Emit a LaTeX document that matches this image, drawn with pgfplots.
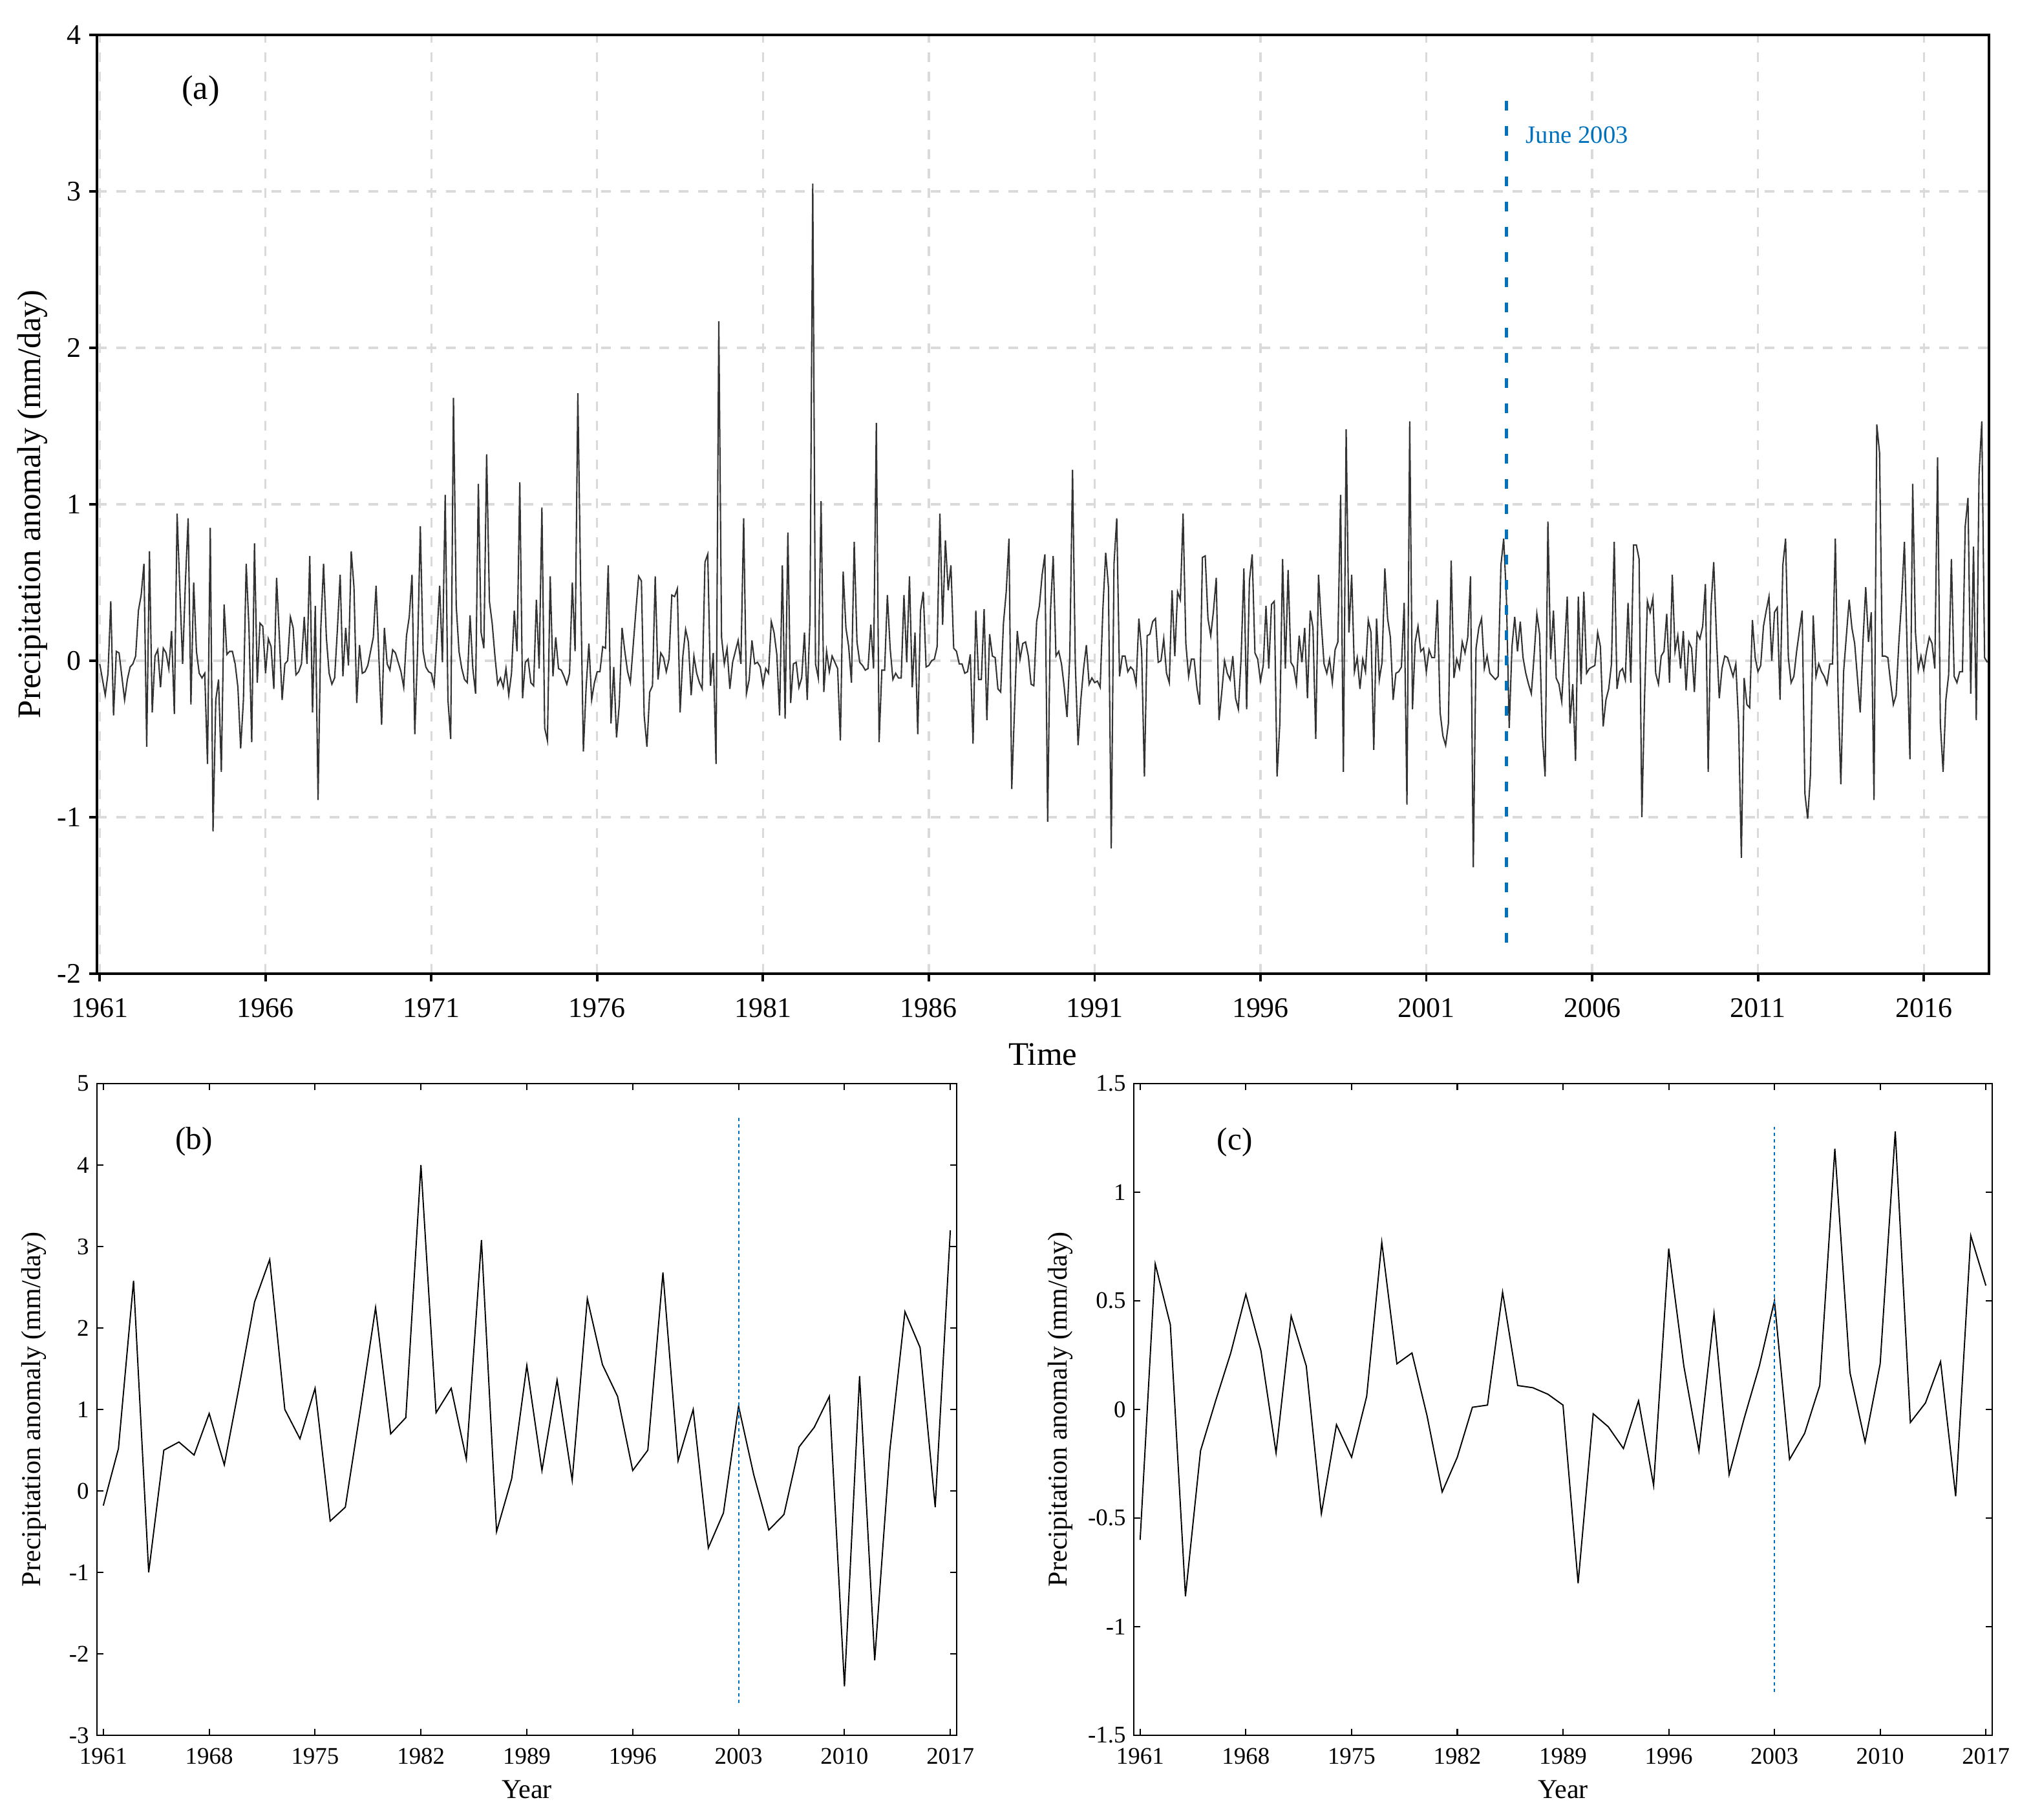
\documentclass[border=0pt]{standalone}
\usepackage{pgfplots}
\pgfplotsset{compat=1.18}
\usepackage{pgfplotstable}
\usepackage{fontspec}
\setmainfont{Liberation Serif}

\definecolor{mblue}{RGB}{0,114,189}
\definecolor{gridgray}{RGB}{218,218,218}

% monthly anomaly, Jan 1961 - Dec 2017, one year per line
\pgfplotstableread[row sep=\\, header=false]{
-0.02\\ -0.12\\ -0.22\\ -0.08\\ 0.38\\ -0.35\\ 0.06\\ 0.05\\ -0.10\\ -0.25\\ -0.12\\ -0.04\\
-0.02\\ 0.03\\ 0.32\\ 0.42\\ 0.62\\ -0.55\\ 0.70\\ -0.33\\ 0.03\\ 0.07\\ -0.17\\ 0.08\\
0.05\\ -0.05\\ 0.19\\ -0.34\\ 0.94\\ 0.45\\ -0.02\\ 0.50\\ 0.91\\ -0.28\\ 0.50\\ 0.06\\
-0.08\\ -0.11\\ -0.08\\ -0.66\\ 0.85\\ -1.09\\ -0.25\\ -0.12\\ -0.71\\ 0.36\\ 0.04\\ 0.06\\
0.06\\ -0.02\\ -0.17\\ -0.56\\ -0.25\\ 0.62\\ 0.21\\ -0.52\\ 0.75\\ -0.14\\ 0.24\\ 0.22\\
-0.08\\ 0.14\\ 0.09\\ -0.18\\ 0.53\\ 0.15\\ -0.25\\ -0.02\\ 0.00\\ 0.28\\ 0.21\\ -0.09\\
-0.07\\ -0.02\\ 0.28\\ -0.02\\ 0.67\\ -0.33\\ 0.35\\ -0.89\\ 0.21\\ 0.62\\ 0.15\\ -0.08\\
-0.15\\ -0.11\\ 0.20\\ 0.55\\ -0.10\\ 0.21\\ -0.03\\ 0.70\\ 0.47\\ -0.27\\ 0.10\\ -0.08\\
-0.07\\ -0.03\\ 0.06\\ 0.15\\ 0.48\\ 0.03\\ -0.41\\ 0.21\\ -0.02\\ -0.06\\ 0.07\\ 0.05\\
-0.01\\ -0.07\\ -0.17\\ 0.16\\ 0.28\\ 0.55\\ -0.47\\ 0.06\\ 0.86\\ 0.06\\ -0.04\\ -0.07\\
-0.08\\ -0.16\\ 0.15\\ 0.48\\ -0.01\\ 1.06\\ -0.25\\ -0.50\\ 1.68\\ 0.35\\ 0.06\\ -0.05\\
-0.12\\ -0.14\\ 0.29\\ -0.05\\ -0.21\\ 1.13\\ 0.18\\ 0.08\\ 1.32\\ 0.38\\ 0.24\\ 0.03\\
-0.15\\ -0.11\\ -0.17\\ -0.05\\ -0.22\\ -0.08\\ 0.32\\ 0.06\\ 1.14\\ -0.24\\ -0.01\\ 0.01\\
-0.14\\ -0.16\\ 0.39\\ -0.05\\ 0.98\\ -0.43\\ -0.51\\ 0.54\\ -0.10\\ 0.15\\ -0.05\\ -0.06\\
-0.10\\ -0.15\\ -0.08\\ 0.50\\ 0.06\\ 1.71\\ 0.50\\ -0.58\\ -0.17\\ 0.11\\ -0.25\\ -0.14\\
-0.07\\ -0.07\\ 0.09\\ 0.08\\ 0.61\\ -0.40\\ -0.04\\ -0.49\\ -0.28\\ 0.21\\ 0.06\\ -0.07\\
-0.14\\ 0.09\\ 0.32\\ 0.54\\ 0.51\\ -0.35\\ -0.55\\ -0.20\\ -0.16\\ 0.54\\ -0.12\\ 0.05\\
0.02\\ -0.07\\ 0.01\\ 0.42\\ 0.41\\ 0.46\\ -0.33\\ 0.03\\ 0.20\\ 0.12\\ -0.22\\ 0.03\\
-0.08\\ -0.14\\ -0.18\\ 0.63\\ 0.68\\ -0.16\\ 0.05\\ -0.66\\ 2.17\\ 0.15\\ -0.02\\ 0.08\\
-0.18\\ -0.01\\ 0.06\\ 0.13\\ -0.02\\ 0.91\\ -0.21\\ -0.12\\ 0.13\\ -0.02\\ -0.01\\ -0.04\\
-0.16\\ -0.05\\ -0.08\\ 0.25\\ 0.18\\ 0.04\\ -0.35\\ 0.61\\ -0.37\\ 0.82\\ -0.27\\ -0.02\\
-0.01\\ -0.17\\ -0.11\\ 0.18\\ -0.25\\ 0.27\\ 3.05\\ -0.02\\ -0.11\\ 1.02\\ -0.20\\ 0.06\\
-0.07\\ 0.03\\ -0.01\\ -0.05\\ -0.51\\ 0.57\\ 0.21\\ 0.09\\ -0.14\\ 0.76\\ 0.12\\ -0.01\\
-0.03\\ -0.06\\ -0.05\\ 0.23\\ -0.05\\ 1.52\\ -0.52\\ -0.06\\ -0.06\\ 0.42\\ 0.08\\ -0.12\\
-0.08\\ -0.11\\ -0.11\\ 0.42\\ -0.01\\ 0.54\\ -0.17\\ 0.18\\ -0.47\\ 0.32\\ 0.44\\ -0.04\\
-0.03\\ 0.00\\ 0.01\\ 0.09\\ 0.94\\ 0.23\\ 0.77\\ 0.45\\ 0.61\\ 0.08\\ 0.06\\ -0.02\\
-0.02\\ -0.08\\ -0.07\\ 0.04\\ -0.53\\ 0.32\\ -0.12\\ -0.12\\ 0.33\\ -0.38\\ 0.17\\ 0.03\\
0.02\\ -0.18\\ -0.20\\ 0.24\\ 0.44\\ 0.78\\ -0.82\\ -0.31\\ 0.19\\ 0.01\\ 0.11\\ 0.12\\
0.03\\ -0.15\\ -0.16\\ 0.25\\ 0.35\\ 0.55\\ 0.68\\ -1.03\\ 0.31\\ 0.67\\ 0.03\\ 0.06\\
-0.02\\ -0.17\\ -0.36\\ 0.03\\ 1.22\\ -0.02\\ -0.54\\ -0.25\\ -0.05\\ 0.10\\ -0.15\\ -0.11\\
-0.14\\ -0.13\\ -0.17\\ 0.34\\ 0.69\\ 0.47\\ -1.20\\ 0.62\\ 0.91\\ -0.10\\ 0.03\\ 0.03\\
-0.07\\ -0.04\\ -0.06\\ -0.15\\ 0.27\\ 0.06\\ -0.74\\ 0.16\\ 0.17\\ 0.25\\ 0.27\\ -0.01\\
0.00\\ 0.14\\ -0.08\\ -0.14\\ 0.45\\ 0.03\\ 0.44\\ 0.39\\ 0.94\\ 0.11\\ -0.10\\ 0.01\\
0.01\\ -0.17\\ -0.28\\ 0.66\\ 0.67\\ 0.27\\ 0.16\\ 0.32\\ 0.53\\ -0.38\\ -0.20\\ 0.00\\
-0.08\\ -0.12\\ 0.03\\ -0.24\\ -0.31\\ 0.02\\ 0.59\\ -0.31\\ 0.51\\ 0.68\\ 0.05\\ 0.01\\
-0.13\\ -0.03\\ 0.35\\ -0.05\\ 0.36\\ 0.38\\ -0.74\\ -0.40\\ 0.65\\ -0.05\\ 0.58\\ -0.01\\
-0.04\\ -0.15\\ 0.16\\ -0.01\\ 0.21\\ -0.24\\ 0.32\\ 0.21\\ -0.50\\ 0.55\\ 0.24\\ -0.02\\
-0.08\\ 0.01\\ -0.14\\ 0.07\\ 0.12\\ 1.06\\ -0.71\\ 1.48\\ 0.18\\ 0.55\\ -0.07\\ 0.02\\
-0.18\\ 0.01\\ -0.07\\ 0.26\\ 0.18\\ -0.57\\ 0.27\\ -0.12\\ -0.01\\ 0.59\\ 0.27\\ 0.15\\
-0.25\\ -0.08\\ -0.07\\ -0.04\\ 0.37\\ -0.92\\ 1.53\\ -0.31\\ 0.12\\ 0.22\\ 0.06\\ 0.08\\
-0.07\\ 0.07\\ 0.02\\ 0.02\\ 0.39\\ -0.33\\ -0.48\\ -0.54\\ -0.40\\ 0.64\\ -0.11\\ 0.01\\
-0.05\\ 0.12\\ 0.05\\ 0.15\\ 0.54\\ -1.32\\ 0.08\\ 0.21\\ 0.27\\ -0.05\\ 0.03\\ -0.08\\
-0.10\\ -0.12\\ -0.10\\ 0.61\\ 0.78\\ 0.40\\ -0.43\\ 0.09\\ 0.28\\ 0.06\\ 0.25\\ 0.02\\
-0.08\\ -0.15\\ -0.21\\ 0.03\\ 0.30\\ 0.17\\ -0.48\\ -0.74\\ 0.89\\ 0.01\\ 0.32\\ -0.11\\
-0.15\\ -0.26\\ 0.06\\ 0.41\\ -0.40\\ -0.15\\ -0.64\\ 0.41\\ -0.15\\ 0.44\\ -0.08\\ -0.05\\
-0.04\\ -0.03\\ 0.18\\ 0.09\\ -0.42\\ -0.25\\ -0.18\\ -0.02\\ 0.76\\ -0.18\\ -0.07\\ -0.05\\
-0.12\\ 0.37\\ -0.14\\ 0.74\\ 0.74\\ 0.65\\ -1.00\\ -0.22\\ 0.38\\ 0.31\\ 0.40\\ -0.08\\
-0.15\\ 0.03\\ 0.06\\ 0.30\\ -0.14\\ 0.55\\ 0.06\\ 0.16\\ -0.05\\ 0.19\\ -0.19\\ 0.12\\
0.08\\ -0.20\\ 0.18\\ 0.14\\ 0.22\\ 0.49\\ -0.71\\ 0.34\\ 0.63\\ 0.15\\ -0.24\\ -0.05\\
0.03\\ 0.02\\ -0.04\\ -0.10\\ -0.02\\ -0.40\\ -1.26\\ -0.11\\ -0.28\\ -0.30\\ 0.26\\ 0.02\\
-0.07\\ -0.03\\ 0.22\\ 0.32\\ 0.41\\ 0.00\\ 0.31\\ 0.34\\ -0.25\\ 0.61\\ 0.78\\ 0.02\\
-0.14\\ -0.10\\ 0.06\\ 0.19\\ 0.32\\ -0.85\\ -1.01\\ -0.73\\ 0.29\\ -0.10\\ -0.02\\ -0.07\\
-0.10\\ -0.15\\ -0.02\\ -0.02\\ 0.78\\ -0.20\\ -0.79\\ -0.07\\ 0.16\\ 0.39\\ 0.21\\ 0.11\\
-0.11\\ -0.33\\ 0.12\\ 0.47\\ 0.12\\ 0.31\\ -0.89\\ 1.51\\ 1.33\\ 0.03\\ 0.03\\ 0.02\\
-0.14\\ -0.28\\ -0.22\\ 0.12\\ 0.39\\ 0.76\\ 0.06\\ -0.63\\ 1.13\\ 0.18\\ -0.06\\ 0.03\\
-0.06\\ 0.06\\ 0.15\\ 0.11\\ -0.05\\ 1.30\\ -0.40\\ -0.71\\ -0.25\\ -0.09\\ 0.65\\ -0.10\\
-0.14\\ -0.07\\ -0.07\\ 0.86\\ 1.04\\ -0.21\\ 0.73\\ -0.38\\ 1.19\\ 1.53\\ 0.02\\ -0.01\\
}\monthly

% annual anomaly, panel (b)
\pgfplotstableread{
year v
1961 -0.18
1962 0.52
1963 2.58
1964 -1.00
1965 0.50
1966 0.60
1967 0.44
1968 0.95
1969 0.32
1970 1.30
1971 2.32
1972 2.84
1973 1.00
1974 0.64
1975 1.26
1976 -0.37
1977 -0.20
1978 1.00
1979 2.25
1980 0.70
1981 0.90
1982 4.00
1983 0.96
1984 1.26
1985 0.39
1986 3.08
1987 -0.50
1988 0.15
1989 1.54
1990 0.25
1991 1.36
1992 0.13
1993 2.36
1994 1.55
1995 1.16
1996 0.25
1997 0.50
1998 2.68
1999 0.37
2000 1.00
2001 -0.70
2002 -0.27
2003 1.04
2004 0.20
2005 -0.48
2006 -0.29
2007 0.54
2008 0.78
2009 1.16
2010 -2.40
2011 1.41
2012 -2.08
2013 0.50
2014 2.20
2015 1.76
2016 -0.20
2017 3.20
}\annualb

% annual anomaly, panel (c)
\pgfplotstableread{
year v
1961 -0.60
1962 0.67
1963 0.39
1964 -0.86
1965 -0.19
1966 0.04
1967 0.26
1968 0.53
1969 0.27
1970 -0.20
1971 0.43
1972 0.20
1973 -0.48
1974 -0.07
1975 -0.22
1976 0.06
1977 0.77
1978 0.21
1979 0.26
1980 -0.03
1981 -0.38
1982 -0.22
1983 0.01
1984 0.02
1985 0.54
1986 0.11
1987 0.10
1988 0.07
1989 0.02
1990 -0.80
1991 -0.02
1992 -0.08
1993 -0.18
1994 0.04
1995 -0.35
1996 0.74
1997 0.20
1998 -0.19
1999 0.44
2000 -0.30
2001 -0.04
2002 0.20
2003 0.50
2004 -0.23
2005 -0.11
2006 0.11
2007 1.20
2008 0.17
2009 -0.15
2010 0.21
2011 1.28
2012 -0.06
2013 0.03
2014 0.22
2015 -0.40
2016 0.80
2017 0.57
}\annualc

\begin{document}
\begin{tikzpicture}
\path[use as bounding box] (0,0) rectangle (31.42,28.15);

% ---- panel (a): monthly ----
\begin{axis}[
    at={(1.50cm,13.09cm)}, anchor=south west,
    scale only axis, width=29.27cm, height=14.52cm,
    xmin=-1, xmax=683.6, ymin=-2, ymax=4,
    xtick={0,60,...,660},
    xticklabels={1961,1966,1971,1976,1981,1986,1991,1996,2001,2006,2011,2016},
    ytick={-2,-1,...,4},
    yticklabels={-2,-1,0,1,2,3,4},
    tick pos=left, tick align=outside,
    major tick length=0.12cm,
    axis line style={line width=1.1pt},
    every tick/.style={black, line width=1.1pt},
    grid=major,
    major grid style={gridgray, line width=0.9pt, dash pattern=on 0.15cm off 0.15cm},
    ticklabel style={font=\fontsize{12.5}{14}\selectfont},
    xticklabel style={yshift=-0.14cm},
    label style={font=\fontsize{14.5}{17}\selectfont},
    xlabel={Time},
    ylabel={Precipitation anomaly (mm/day)},
    xlabel style={at={(axis description cs:0.5,-0.086)}, anchor=center},
    ylabel style={at={(axis description cs:-0.0342,0.5)}, anchor=center},
    clip=true,
]
\addplot[black!80, line width=0.6pt] table[x expr=\coordindex, y index=0]{\monthly};
\addplot[mblue, line width=1.5pt, dash pattern=on 0.15cm off 0.24cm] coordinates {(509,-1.8) (509,3.62)};
\node[anchor=west, text=mblue, font=\fontsize{11}{13}\selectfont] at (axis cs:513.2,3.36) {June 2003};
\node[font=\fontsize{15}{18}\selectfont] at (axis cs:36.5,3.64) {(a)};
\end{axis}

% ---- panel (b) ----
\begin{axis}[
    at={(1.50cm,1.31cm)}, anchor=south west,
    scale only axis, width=13.30cm, height=10.08cm,
    xmin=1960.58, xmax=2017.42, ymin=-3, ymax=5,
    xtick={1961,1968,...,2017},
    xticklabels={1961,1968,1975,1982,1989,1996,2003,2010,2017},
    ytick={-3,-2,...,5},
    yticklabels={-3,-2,-1,0,1,2,3,4,5},
    tick pos=both, tick align=inside,
    major tick length=0.1cm,
    axis line style={line width=0.6pt},
    every tick/.style={black, line width=0.6pt},
    ticklabel style={font=\fontsize{10.5}{12}\selectfont},
    xticklabel style={yshift=-0.08cm},
    label style={font=\fontsize{12}{14}\selectfont},
    xlabel={Year},
    ylabel={Precipitation anomaly (mm/day)},
    xlabel style={at={(axis description cs:0.5,-0.083)}, anchor=center},
    ylabel style={at={(axis description cs:-0.0737,0.5)}, anchor=center},
]
\addplot[black, line width=0.55pt] table[x=year, y=v]{\annualb};
\addplot[mblue, line width=0.6pt, dash pattern=on 0.05cm off 0.05cm] coordinates {(2003,-2.6) (2003,4.6)};
\node[font=\fontsize{14}{17}\selectfont] at (axis cs:1967.0,4.29) {(b)};
\end{axis}

% ---- panel (c) ----
\begin{axis}[
    at={(17.54cm,1.31cm)}, anchor=south west,
    scale only axis, width=13.28cm, height=10.08cm,
    xmin=1960.58, xmax=2017.42, ymin=-1.5, ymax=1.5,
    xtick={1961,1968,...,2017},
    xticklabels={1961,1968,1975,1982,1989,1996,2003,2010,2017},
    ytick={-1.5,-1,...,1.5},
    yticklabels={-1.5,-1,-0.5,0,0.5,1,1.5},
    tick pos=both, tick align=inside,
    major tick length=0.1cm,
    axis line style={line width=0.6pt},
    every tick/.style={black, line width=0.6pt},
    ticklabel style={font=\fontsize{10.5}{12}\selectfont},
    xticklabel style={yshift=-0.08cm},
    label style={font=\fontsize{12}{14}\selectfont},
    xlabel={Year},
    ylabel={Precipitation anomaly (mm/day)},
    xlabel style={at={(axis description cs:0.5,-0.083)}, anchor=center},
    ylabel style={at={(axis description cs:-0.0858,0.5)}, anchor=center},
]
\addplot[black, line width=0.55pt] table[x=year, y=v]{\annualc};
\addplot[mblue, line width=0.6pt, dash pattern=on 0.05cm off 0.05cm] coordinates {(2003,-1.3) (2003,1.3)};
\node[font=\fontsize{14}{17}\selectfont] at (axis cs:1967.26,1.23) {(c)};
\end{axis}
\end{tikzpicture}
\end{document}
